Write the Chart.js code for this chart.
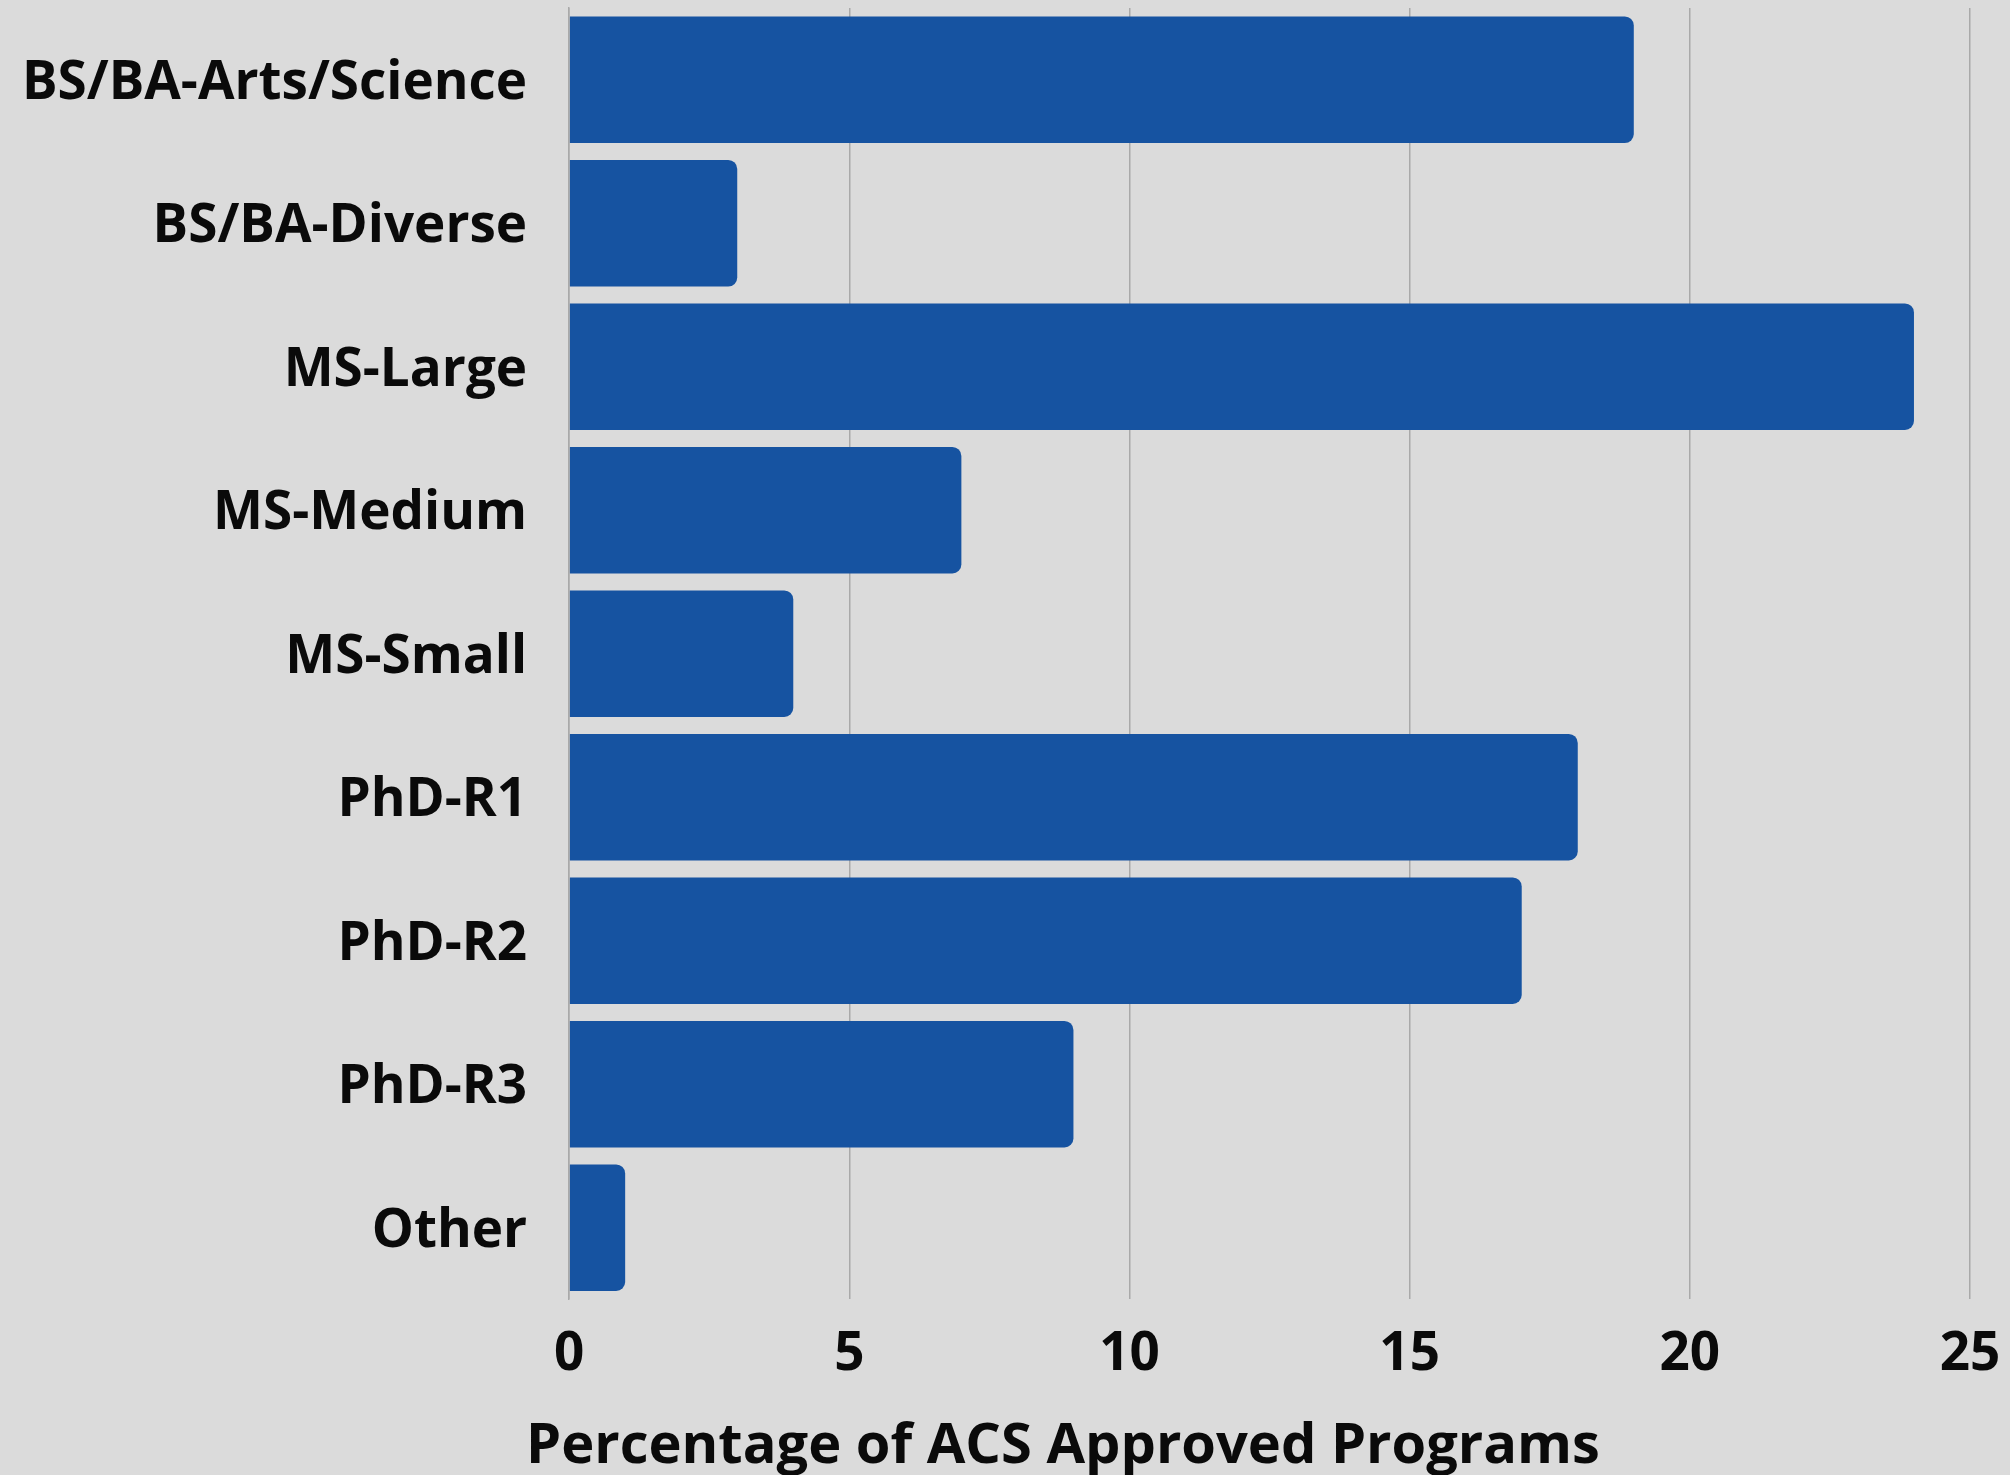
<!DOCTYPE html>
<html>
<head>
<meta charset="utf-8">
<script src="https://cdn.jsdelivr.net/npm/chart.js@4/dist/chart.umd.min.js"></script>
<style>
  html, body { margin: 0; padding: 0; background: #dbdbdb; }
  #wrap { position: relative; width: 2010px; height: 1475px; }
  #xTitle {
    position: absolute; left: 526px; top: 1413px; margin: 0;
    font: bold 56px/56px "Open Sans"; color: #0a0a0a; white-space: nowrap;
  }
</style>
</head>
<body>
<div id="wrap">
  <canvas id="programChart" width="2010" height="1475"></canvas>
  <div id="xTitle">Percentage of ACS Approved Programs</div>
</div>
<script>
const categories = ['BS/BA-Arts/Science', 'BS/BA-Diverse', 'MS-Large', 'MS-Medium', 'MS-Small', 'PhD-R1', 'PhD-R2', 'PhD-R3', 'Other'];
const percentages = [19, 3, 24, 7, 4, 18, 17, 9, 1];
const xTicks = [0, 5, 10, 15, 20, 25];

const labelFont = { family: '"Open Sans"', size: 53, weight: 'bold' };

const ctx = document.getElementById('programChart').getContext('2d');

const programChart = new Chart(ctx, {
  type: 'bar',
  data: {
    labels: categories,
    datasets: [{
      data: percentages,
      backgroundColor: '#1653a1',
      borderRadius: 9,
      borderSkipped: 'start',
      barPercentage: 0.882,
      categoryPercentage: 1
    }]
  },
  options: {
    indexAxis: 'y',
    responsive: false,
    animation: false,
    layout: { padding: { top: 8, left: 0, right: 0, bottom: 64 } },
    plugins: { legend: { display: false }, tooltip: { enabled: false } },
    scales: {
      x: {
        min: xTicks[0],
        max: xTicks[xTicks.length - 1],
        afterBuildTicks: (axis) => { axis.ticks = xTicks.map(v => ({ value: v })); },
        afterFit: (axis) => { axis.paddingRight = 40; },
        grid: { color: '#a9a9a9', lineWidth: 1.5, drawTicks: false },
        border: { display: false },
        ticks: { color: '#0a0a0a', font: labelFont, padding: 24 }
      },
      y: {
        afterFit: (axis) => { axis.paddingTop = 0; axis.paddingBottom = 0; },
        grid: { display: false, drawTicks: true, tickLength: 20, tickColor: 'rgba(0,0,0,0)' },
        border: { display: true, color: '#a9a9a9', width: 1.5 },
        ticks: { color: '#0a0a0a', font: labelFont, padding: 22, labelOffset: 4 }
      }
    }
  }
});
</script>
</body>
</html>
